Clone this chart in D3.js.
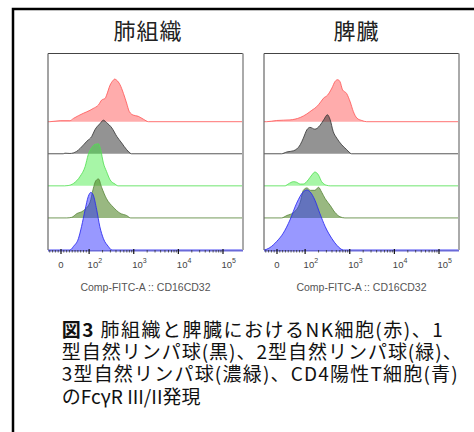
<!DOCTYPE html>
<html>
<head>
<meta charset="utf-8">
<script src="https://cdn.jsdelivr.net/npm/d3@7"></script>
<style>
  body { margin: 0; background: #fff; }
  svg { display: block; }
</style>
</head>
<body>
<svg id="chart" width="474" height="432"></svg>
<script>
// ---- data -------------------------------------------------------------
const tissues = ["肺組織", "脾臓"];
const populations = ["NK", "ILC1", "ILC2", "ILC3", "CD4T"];

// major / minor tick values of the biexponential FITC axis
const majorTicks = [0, 1e2, 1e3, 1e4, 1e5];
const minorTicks = [-40, -30, -20, -10, 10, 20, 30, 40, 50, 60, 70, 80, 90,
  200, 300, 400, 500, 600, 700, 800, 900,
  2000, 3000, 4000, 5000, 6000, 7000, 8000, 9000,
  20000, 30000, 40000, 50000, 60000, 70000, 80000, 90000];
const axisTitle = "Comp-FITC-A :: CD16CD32";

// histogram outlines: [display position in decades, % of mode]
const lungNK = [[1.12,0],[1.35,1.7],[1.57,1.7],[1.65,5.5],[1.87,14],[2.02,19],[2.09,22],[2.21,28],[2.28,36],[2.36,39],[2.39,44],[2.47,61],[2.54,69],[2.57,71],[2.62,69],[2.69,62],[2.77,47],[2.84,31],[2.90,17],[2.99,11],[3.10,9],[3.22,4],[3.33,0]];
const lungILC1 = [[1.42,0],[1.46,1],[1.57,0.5],[1.72,4],[1.80,9],[1.95,21],[2.06,29],[2.13,40],[2.24,50],[2.32,56],[2.39,52],[2.51,43],[2.62,29],[2.73,18],[2.84,7],[2.95,0]];
const lungILC2 = [[1.45,0],[1.53,0.5],[1.65,4],[1.80,16],[1.91,32],[1.98,52],[2.06,64],[2.13,69],[2.21,70],[2.26,60],[2.32,38],[2.39,24],[2.47,10],[2.58,3],[2.65,0]];
const lungILC3 = [[1.50,0],[1.61,1],[1.72,7],[1.87,12],[2.02,26],[2.09,48],[2.15,62],[2.21,65],[2.28,51],[2.39,32],[2.54,18],[2.69,8],[2.84,4],[2.93,0]];
const lungCD4T = [[1.57,0],[1.65,6],[1.76,19],[1.83,39],[1.91,67],[1.98,89],[2.04,96],[2.09,92],[2.17,67],[2.24,39],[2.32,19],[2.43,6],[2.51,0]];

const spleenNK = [[1.14,0],[1.36,2],[1.66,3],[1.89,7],[2.04,13],[2.15,19],[2.26,25],[2.35,33],[2.41,39],[2.50,44],[2.60,56],[2.67,67],[2.73,70],[2.78,67],[2.84,53],[2.93,47],[3.01,33],[3.08,17],[3.16,6],[3.27,2],[3.38,0]];
const spleenILC1 = [[1.47,0],[1.59,3],[1.74,5],[1.89,15],[1.96,26],[2.04,40],[2.11,44],[2.22,41],[2.33,47],[2.42,57],[2.50,65],[2.56,57],[2.63,37],[2.71,26],[2.82,15],[2.93,7],[3.04,0]];
const spleenILC2 = [[1.55,0],[1.62,3],[1.74,7],[1.81,6],[1.89,3],[1.96,3],[2.07,10],[2.15,18],[2.22,23],[2.30,18],[2.37,7],[2.48,1],[2.56,0]];
const spleenILC3 = [[1.47,0],[1.59,4],[1.74,9],[1.89,26],[1.96,46],[2.04,50],[2.12,46],[2.22,46],[2.30,51],[2.37,43],[2.45,32],[2.56,21],[2.67,9],[2.78,2],[2.89,0]];
const spleenCD4T = [[1.06,0],[1.21,4],[1.36,14],[1.51,28],[1.66,50],[1.81,78],[1.96,97],[2.04,100],[2.11,97],[2.22,83],[2.33,61],[2.45,39],[2.60,19],[2.71,8],[2.86,0]];

const histograms = {
  "肺組織": [lungNK, lungILC1, lungILC2, lungILC3, lungCD4T],
  "脾臓": [spleenNK, spleenILC1, spleenILC2, spleenILC3, spleenCD4T]
};

const captionLines = [
  [["図3", true], [" 肺組織と脾臓におけるNK細胞(赤)、1", false]],
  [["型自然リンパ球(黒)、2型自然リンパ球(緑)、", false]],
  [["3型自然リンパ球(濃緑)、CD4陽性T細胞(青)", false]],
  [["のFcγR III/II発現", false]]
];

// ---- styling ----------------------------------------------------------
const fills = {
  NK: "rgba(255,70,70,0.45)",
  ILC1: "rgba(40,40,40,0.5)",
  ILC2: "rgba(60,235,60,0.45)",
  ILC3: "rgba(70,125,25,0.55)",
  CD4T: "rgba(40,40,255,0.48)"
};
const strokes = {
  NK: "#ff5a5a",
  ILC1: "#3a3a3a",
  ILC2: "#55e055",
  ILC3: "#5d8a3e",
  CD4T: "#2a2af0"
};

const svg = d3.select("#chart");
const cjk = "'Noto Sans CJK JP', 'Noto Sans', sans-serif";
const sans = "'Liberation Sans', Arial, sans-serif";

// outer figure border
svg.append("rect")
  .attr("x", 13).attr("y", 9).attr("width", 480).attr("height", 440)
  .attr("fill", "none").attr("stroke", "#000").attr("stroke-width", 2.5);

// biexponential display transform: log above 100, linear around zero
const biex = v => v >= 100 ? Math.log10(v) : 1.37 + 0.63 * v / 100;

const frameTop = 53.5, axisY = 250;
const panelLeft = [48, 264];
const panelWidth = 195;
const titleX = [148, 356.5];

const rowY = d3.scalePoint().domain(populations).range([121.7, axisY]);
const heightScale = d3.scaleLinear().domain([0, 100]).range([0, 60]);

tissues.forEach((tissue, pi) => {
  const x0 = panelLeft[pi];
  const x = d3.scaleLinear().domain([1.37, 5]).range([x0 + 13, x0 + 175]);
  const [dMin, dMax] = [x.invert(x0), x.invert(x0 + panelWidth)];

  const g = svg.append("g");
  const clipId = "clip" + pi;
  svg.append("clipPath").attr("id", clipId)
    .append("rect").attr("x", x0).attr("y", frameTop)
    .attr("width", panelWidth).attr("height", axisY - frameTop + 1);

  const plot = g.append("g").attr("clip-path", `url(#${clipId})`);

  populations.forEach((pop, i) => {
    const pts = histograms[tissue][i];
    const base = rowY(pop);
    const area = d3.area()
      .x(d => x(d[0]))
      .y0(base)
      .y1(d => base - heightScale(d[1]))
      .curve(d3.curveMonotoneX);
    const line = d3.line()
      .x(d => x(d[0]))
      .y(d => base - heightScale(d[1]))
      .curve(d3.curveMonotoneX);
    plot.append("path").attr("d", area(pts)).attr("fill", fills[pop]);
    const outline = [[dMin, 0], ...pts, [dMax, 0]];
    plot.append("path").attr("d", line(outline))
      .attr("fill", "none").attr("stroke", strokes[pop])
      .attr("stroke-width", 1).attr("stroke-opacity", 0.85);
  });

  // frame
  g.append("line").attr("x1", x0).attr("x2", x0 + panelWidth)
    .attr("y1", frameTop).attr("y2", frameTop)
    .attr("stroke", "#444").attr("stroke-width", 1.2);
  g.append("line").attr("x1", x0).attr("x2", x0)
    .attr("y1", frameTop).attr("y2", axisY)
    .attr("stroke", "#666").attr("stroke-width", 1.2);
  g.append("line").attr("x1", x0 + panelWidth).attr("x2", x0 + panelWidth)
    .attr("y1", frameTop).attr("y2", axisY)
    .attr("stroke", "#aaa").attr("stroke-width", 2);

  // axis
  g.append("line").attr("x1", x0).attr("x2", x0 + panelWidth)
    .attr("y1", axisY + 0.8).attr("y2", axisY + 0.8)
    .attr("stroke", "#6a6ad8").attr("stroke-width", 1.6);
  g.selectAll(".minor").data(minorTicks).join("line")
    .attr("x1", d => x(biex(d))).attr("x2", d => x(biex(d)))
    .attr("y1", axisY).attr("y2", axisY + 2.5)
    .attr("stroke", "#333").attr("stroke-width", 0.8);
  g.selectAll(".major").data(majorTicks).join("line")
    .attr("x1", d => x(biex(d))).attr("x2", d => x(biex(d)))
    .attr("y1", axisY - 1).attr("y2", axisY + 4)
    .attr("stroke", "#111").attr("stroke-width", 1.2);

  majorTicks.forEach(v => {
    const tx = x(biex(v));
    if (v === 0) {
      g.append("text").attr("x", tx).attr("y", 268)
        .attr("text-anchor", "middle")
        .attr("font-family", sans).attr("font-size", 9.5).attr("fill", "#444")
        .text("0");
    } else {
      const t = g.append("text").attr("x", tx - 1.5).attr("y", 268)
        .attr("font-family", sans).attr("font-size", 9.5).attr("fill", "#444");
      t.append("tspan").text("10");
      t.append("tspan").attr("dy", -5).attr("font-size", 7)
        .text(String(Math.round(Math.log10(v))));
    }
  });

  g.append("text").attr("x", x0 + panelWidth / 2).attr("y", 291)
    .attr("text-anchor", "middle")
    .attr("font-family", sans).attr("font-size", 10.5).attr("fill", "#555")
    .text(axisTitle);

  svg.append("text").attr("x", titleX[pi]).attr("y", 39)
    .attr("text-anchor", "middle")
    .attr("font-family", cjk).attr("font-size", 22).attr("fill", "#222")
    .attr("letter-spacing", 1)
    .text(tissue);
});

// caption, justified like the source text box
const captionWidths = [381, 400, 396, null];
const captionBase = [337, 359, 381, 404];
captionLines.forEach((parts, i) => {
  const t = svg.append("text").attr("x", 61.7).attr("y", captionBase[i])
    .attr("font-family", cjk).attr("font-size", 19).attr("fill", "#111");
  if (captionWidths[i]) t.attr("textLength", captionWidths[i]).attr("lengthAdjust", "spacing");
  parts.forEach(([s, bold]) => {
    t.append("tspan").attr("font-weight", bold ? 700 : 400).text(s);
  });
});
</script>
</body>
</html>
